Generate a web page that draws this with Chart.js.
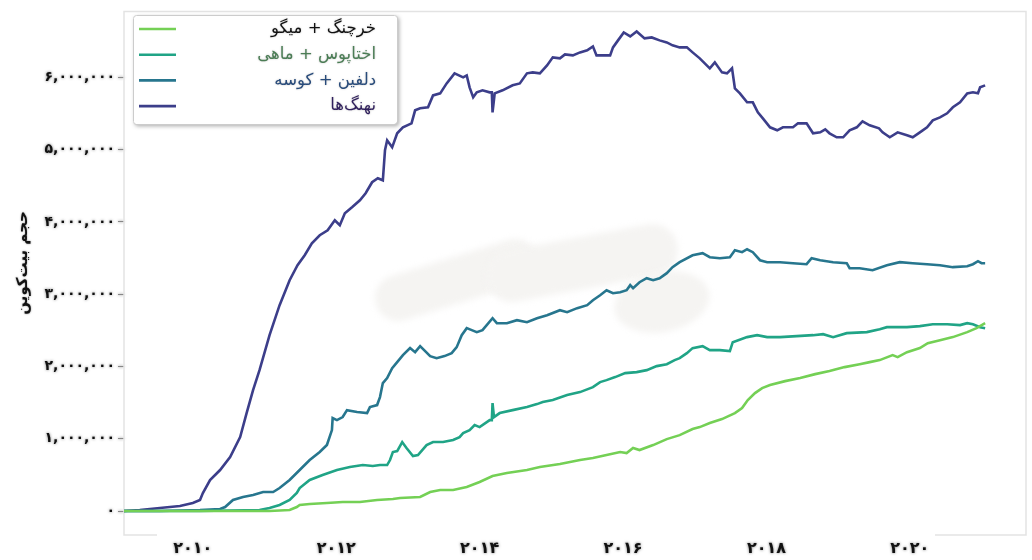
<!DOCTYPE html>
<html><head><meta charset="utf-8">
<script src="https://cdn.jsdelivr.net/npm/chart.js@4"></script>
<style>html,body{margin:0;padding:0;background:#fff}#wrap{width:1032px;height:560px}</style>
</head><body><div id="wrap"><canvas id="c" width="1032" height="560"></canvas></div>
<script>
// ---- data (x: decimal year, y: BTC) ----
const seriesLabels = ['خرچنگ + میگو', 'اختاپوس + ماهی', 'دلفین + کوسه', 'نهنگ‌ها'];
const yAxisTitle = 'حجم بیت‌کوین';
const xTickYears = [2010, 2012, 2014, 2016, 2018, 2020];
const yTickValues = [0, 1000000, 2000000, 3000000, 4000000, 5000000, 6000000];

const shrimpYears = [2009.04,2011.07,2011.35,2011.45,2011.49,2011.63,2011.87,2012.09,2012.33,2012.57,2012.79,2012.89,2013.17,2013.31,2013.45,2013.63,2013.82,2014.00,2014.18,2014.38,2014.66,2014.84,2015.12,2015.40,2015.58,2015.77,2015.96,2016.05,2016.14,2016.23,2016.42,2016.61,2016.79,2016.97,2017.07,2017.21,2017.38,2017.56,2017.66,2017.74,2017.84,2017.94,2018.05,2018.26,2018.47,2018.68,2018.88,2019.09,2019.30,2019.44,2019.58,2019.76,2019.83,2019.96,2020.14,2020.25,2020.42,2020.60,2020.80,2020.93,2021.05];
const shrimpValues = [0,0,14000,55000,83000,97000,111000,124000,124000,152000,166000,180000,194000,263000,290000,290000,332000,401000,484000,525000,567000,608000,650000,705000,733000,774000,816000,802000,871000,843000,912000,995000,1050000,1134000,1161000,1217000,1272000,1355000,1424000,1535000,1632000,1701000,1742000,1797000,1839000,1894000,1936000,1991000,2032000,2060000,2088000,2157000,2129000,2198000,2254000,2323000,2364000,2406000,2475000,2530000,2599000];

const octopusYears = [2009.04,2010.10,2010.93,2011.07,2011.21,2011.35,2011.45,2011.49,2011.63,2011.81,2012.01,2012.19,2012.37,2012.51,2012.61,2012.71,2012.75,2012.79,2012.85,2012.92,2012.98,2013.07,2013.14,2013.26,2013.35,2013.49,2013.63,2013.72,2013.77,2013.86,2013.93,2014.00,2014.14,2014.17,2014.18,2014.20,2014.28,2014.46,2014.66,2014.80,2014.88,2015.02,2015.22,2015.40,2015.58,2015.68,2015.77,2015.89,2016.03,2016.19,2016.33,2016.47,2016.61,2016.72,2016.79,2016.89,2016.97,2017.11,2017.21,2017.35,2017.49,2017.53,2017.73,2017.87,2018.01,2018.19,2018.42,2018.65,2018.79,2018.93,2019.12,2019.40,2019.58,2019.68,2019.96,2020.14,2020.32,2020.52,2020.70,2020.80,2020.88,2020.98,2021.05];
const octopusValues = [0,0,14000,41000,83000,152000,249000,318000,429000,498000,567000,608000,636000,622000,636000,636000,705000,816000,830000,954000,871000,760000,774000,912000,954000,954000,982000,1023000,1078000,1120000,1189000,1161000,1258000,1258000,1493000,1300000,1355000,1396000,1438000,1479000,1507000,1535000,1604000,1645000,1714000,1784000,1811000,1853000,1908000,1922000,1949000,2005000,2032000,2088000,2115000,2184000,2254000,2281000,2226000,2226000,2212000,2336000,2406000,2433000,2406000,2406000,2420000,2433000,2447000,2406000,2461000,2475000,2516000,2544000,2544000,2558000,2585000,2585000,2572000,2599000,2585000,2544000,2530000];

const dolphinYears = [2009.04,2009.54,2010.10,2010.38,2010.45,2010.56,2010.70,2010.84,2010.98,2011.12,2011.21,2011.35,2011.49,2011.63,2011.77,2011.87,2011.94,2011.95,2012.01,2012.09,2012.15,2012.29,2012.43,2012.47,2012.57,2012.61,2012.65,2012.71,2012.78,2012.85,2012.93,2013.03,2013.10,2013.17,2013.24,2013.31,2013.40,2013.51,2013.61,2013.68,2013.75,2013.82,2013.89,2013.96,2014.04,2014.18,2014.24,2014.38,2014.52,2014.66,2014.80,2014.94,2015.12,2015.22,2015.36,2015.50,2015.58,2015.68,2015.77,2015.86,2015.96,2016.05,2016.10,2016.14,2016.23,2016.33,2016.42,2016.51,2016.61,2016.69,2016.79,2016.97,2017.11,2017.21,2017.35,2017.49,2017.56,2017.66,2017.73,2017.81,2017.91,2018.01,2018.19,2018.37,2018.56,2018.63,2018.75,2018.93,2019.12,2019.16,2019.30,2019.48,2019.68,2019.86,2020.04,2020.24,2020.42,2020.60,2020.80,2020.88,2020.95,2021.00,2021.05];
const dolphinValues = [0,0,14000,28000,55000,152000,194000,221000,263000,263000,318000,429000,567000,705000,816000,913000,1120000,1286000,1258000,1300000,1396000,1369000,1355000,1438000,1466000,1576000,1770000,1839000,1977000,2060000,2157000,2254000,2198000,2281000,2212000,2143000,2115000,2143000,2185000,2267000,2433000,2530000,2503000,2475000,2503000,2668000,2599000,2599000,2641000,2613000,2668000,2710000,2779000,2751000,2807000,2848000,2917000,2986000,3055000,3014000,3028000,3055000,3125000,3083000,3166000,3221000,3194000,3221000,3291000,3374000,3443000,3539000,3567000,3512000,3498000,3512000,3609000,3581000,3622000,3581000,3470000,3443000,3443000,3429000,3415000,3498000,3470000,3443000,3429000,3360000,3360000,3332000,3401000,3443000,3429000,3415000,3401000,3374000,3387000,3415000,3457000,3429000,3429000];

const whaleYears = [2009.04,2009.26,2009.54,2009.82,2010.00,2010.10,2010.14,2010.24,2010.38,2010.52,2010.66,2010.75,2010.84,2010.93,2011.07,2011.21,2011.35,2011.46,2011.56,2011.66,2011.77,2011.88,2011.98,2012.05,2012.12,2012.22,2012.33,2012.41,2012.50,2012.58,2012.65,2012.68,2012.71,2012.78,2012.85,2012.93,2013.05,2013.10,2013.17,2013.28,2013.35,2013.45,2013.54,2013.65,2013.77,2013.82,2013.86,2013.91,2013.96,2014.04,2014.14,2014.17,2014.18,2014.21,2014.32,2014.46,2014.56,2014.66,2014.74,2014.84,2014.94,2015.02,2015.12,2015.19,2015.30,2015.40,2015.50,2015.58,2015.63,2015.72,2015.82,2015.86,2015.93,2016.01,2016.10,2016.19,2016.30,2016.40,2016.51,2016.61,2016.69,2016.79,2016.89,2016.97,2017.07,2017.21,2017.28,2017.38,2017.45,2017.52,2017.56,2017.63,2017.73,2017.81,2017.88,2017.95,2018.05,2018.15,2018.23,2018.37,2018.44,2018.56,2018.65,2018.75,2018.82,2018.88,2018.98,2019.07,2019.16,2019.26,2019.34,2019.44,2019.57,2019.62,2019.72,2019.83,2019.96,2020.04,2020.14,2020.24,2020.32,2020.42,2020.52,2020.60,2020.70,2020.80,2020.88,2020.95,2020.98,2021.05];
const whaleValues = [0,14000,41000,69000,111000,152000,249000,429000,567000,747000,1023000,1355000,1673000,1949000,2433000,2848000,3194000,3401000,3539000,3705000,3816000,3885000,4023000,3954000,4120000,4203000,4300000,4397000,4549000,4604000,4576000,4991000,5129000,5032000,5226000,5309000,5364000,5544000,5572000,5586000,5751000,5779000,5917000,6056000,6000000,6028000,5862000,5724000,5793000,5821000,5793000,5793000,5516000,5779000,5821000,5890000,5917000,6056000,6069000,6056000,6166000,6277000,6263000,6318000,6304000,6346000,6374000,6429000,6304000,6304000,6304000,6415000,6512000,6622000,6567000,6636000,6540000,6553000,6512000,6484000,6443000,6415000,6415000,6346000,6263000,6125000,6208000,6069000,6056000,6125000,5848000,5779000,5655000,5655000,5516000,5433000,5309000,5268000,5309000,5309000,5364000,5364000,5226000,5240000,5281000,5226000,5171000,5171000,5268000,5309000,5392000,5337000,5295000,5240000,5171000,5240000,5198000,5171000,5240000,5309000,5406000,5447000,5503000,5586000,5655000,5779000,5793000,5779000,5862000,5890000];

// ---- styling ----
const lineColors = ['#74d055', '#20a486', '#27768e', '#3c3e8a'];
const legendTextColors = ['#111111', '#4b7d55', '#284b7b', '#2f1f5c'];
const FONT = "'DejaVu Sans', sans-serif";

const fa = s => String(s).replace(/\d/g, d => '۰۱۲۳۴۵۶۷۸۹'[d]);
const pts = (xs, ys) => xs.map((x, i) => ({x, y: ys[i]}));

const datasets = [
  pts(shrimpYears, shrimpValues),
  pts(octopusYears, octopusValues),
  pts(dolphinYears, dolphinValues),
  pts(whaleYears, whaleValues)
].map((d, i) => ({
  label: seriesLabels[i], data: d, borderColor: lineColors[i], backgroundColor: lineColors[i],
  borderWidth: 2.6, pointRadius: 0, tension: 0, fill: false
}));

const shadowPlugin = {
  id: 'shadowText',
  beforeDraw(chart) {
    const ctx = chart.ctx;
    ctx.shadowColor = 'rgba(0,0,0,0.55)';
    ctx.shadowBlur = 3;
    ctx.shadowOffsetX = 0; ctx.shadowOffsetY = 0;
  },
  beforeDatasetsDraw(chart) {
    const ctx = chart.ctx, a = chart.chartArea;
    ctx.shadowColor = 'rgba(0,0,0,0)'; ctx.shadowBlur = 0;
    // watermark smudge
    ctx.save();
    ctx.filter = 'blur(3px)';
    ctx.strokeStyle = '#f5f4f2'; ctx.fillStyle = '#f5f4f2'; ctx.lineCap = 'round';
    ctx.lineWidth = 46;
    ctx.beginPath(); ctx.moveTo(398, 298); ctx.lineTo(515, 262); ctx.stroke();
    ctx.lineWidth = 52;
    ctx.beginPath(); ctx.moveTo(512, 276); ctx.lineTo(652, 250); ctx.stroke();
    ctx.beginPath(); ctx.ellipse(662, 302, 48, 30, -0.2, 0, Math.PI * 2); ctx.fill();
    ctx.restore();
    // frame
    ctx.save();
    ctx.strokeStyle = '#e3e3e3'; ctx.lineWidth = 1.5;
    ctx.beginPath();
    ctx.moveTo(157, a.bottom); ctx.lineTo(a.left, a.bottom); ctx.lineTo(a.left, a.top);
    ctx.lineTo(a.right, a.top); ctx.lineTo(a.right, a.bottom); ctx.lineTo(935, a.bottom);
    ctx.stroke();
    ctx.restore();
  },
  afterDraw(chart) {
    const ctx = chart.ctx;
    // y axis title
    ctx.save();
    ctx.shadowColor = 'rgba(0,0,0,0.45)'; ctx.shadowBlur = 2;
    ctx.translate(23, 263); ctx.rotate(-Math.PI / 2);
    ctx.direction = 'rtl'; ctx.textAlign = 'center'; ctx.textBaseline = 'middle';
    ctx.font = "bold 15px " + FONT; ctx.fillStyle = '#111';
    ctx.fillText(yAxisTitle, 0, 0);
    ctx.restore();
    // legend
    ctx.save();
    const bx = 133, by = 15, bw = 264, bh = 109;
    ctx.shadowColor = 'rgba(0,0,0,0.35)'; ctx.shadowBlur = 4; ctx.shadowOffsetX = 2; ctx.shadowOffsetY = 2;
    ctx.fillStyle = '#fff';
    ctx.beginPath(); ctx.roundRect(bx, by, bw, bh, 3); ctx.fill();
    ctx.shadowColor = 'rgba(0,0,0,0)'; ctx.shadowBlur = 0; ctx.shadowOffsetX = 0; ctx.shadowOffsetY = 0;
    ctx.strokeStyle = '#cccccc'; ctx.lineWidth = 1;
    ctx.beginPath(); ctx.roundRect(bx + 0.5, by + 0.5, bw, bh, 3); ctx.stroke();
    chart.data.datasets.forEach((ds, i) => {
      const y = 29 + i * 25.7;
      ctx.strokeStyle = ds.borderColor; ctx.lineWidth = 2.6;
      ctx.beginPath(); ctx.moveTo(139, y); ctx.lineTo(176, y); ctx.stroke();
      ctx.save();
      ctx.shadowColor = 'rgba(0,0,0,0.25)'; ctx.shadowBlur = 2;
      ctx.direction = 'rtl'; ctx.textAlign = 'right'; ctx.textBaseline = 'middle';
      ctx.font = "16.5px " + FONT; ctx.fillStyle = legendTextColors[i];
      ctx.fillText(ds.label, 376, y);
      ctx.restore();
    });
    ctx.restore();
  }
};

new Chart(document.getElementById('c'), {
  type: 'line',
  data: {datasets},
  options: {
    responsive: false, animation: false, devicePixelRatio: 1,
    layout: {padding: {top: 11, right: 6, left: 0, bottom: 0}},
    plugins: {legend: {display: false}, tooltip: {enabled: false}},
    scales: {
      x: {
        type: 'linear', min: 2009.04, max: 2021.62,
        afterBuildTicks: s => { s.ticks = xTickYears.map(v => ({value: v})); },
        afterFit: s => { s.height = 25; },
        ticks: {callback: v => fa(v), font: {family: FONT, size: 16, weight: 'bold'}, color: '#111', padding: 4, maxRotation: 0, autoSkip: false},
        grid: {display: false, drawTicks: false},
        border: {display: false}
      },
      y: {
        min: -332000, max: 6913000,
        afterBuildTicks: s => { s.ticks = yTickValues.map(v => ({value: v})); },
        afterFit: s => { s.width = 124; },
        ticks: {callback: v => fa(Number(v).toLocaleString('en-US')), font: {family: FONT, size: 14, weight: 'bold'}, color: '#111', padding: 3, autoSkip: false},
        grid: {drawOnChartArea: false, drawTicks: true, tickLength: 6, color: '#888'},
        border: {display: false}
      }
    }
  },
  plugins: [shadowPlugin]
});
</script></body></html>
